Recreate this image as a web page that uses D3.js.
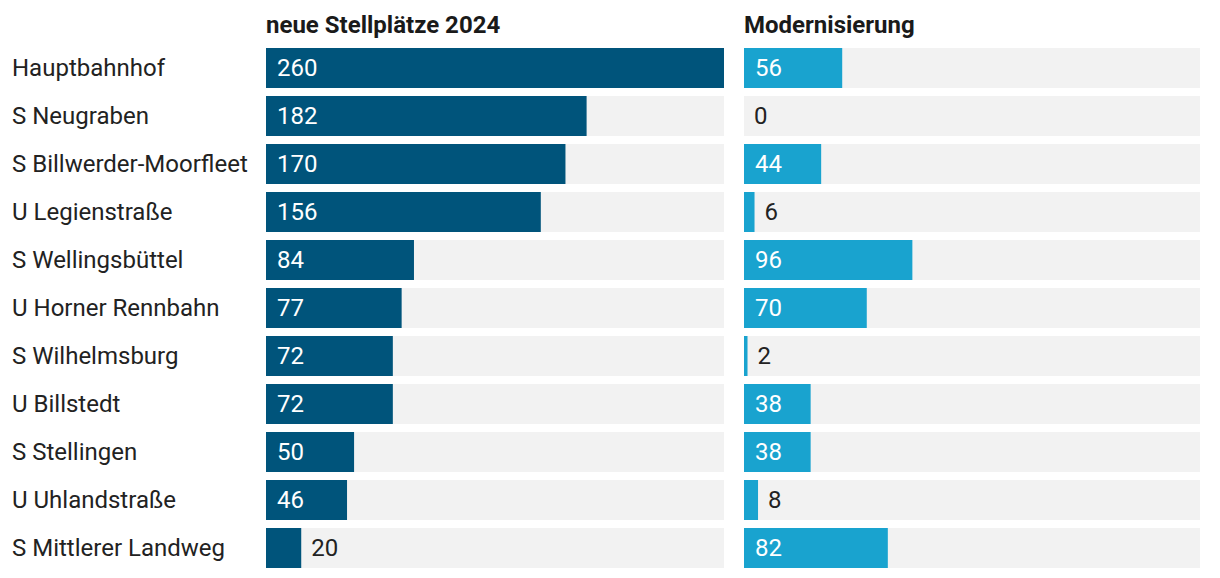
<!DOCTYPE html>
<html><head><meta charset="utf-8">
<script src="https://cdn.jsdelivr.net/npm/d3@7"></script>
<style>
html,body{margin:0;padding:0;background:#fff;}
text{font-family:Roboto,"Noto Sans",sans-serif;}
</style></head>
<body>
<svg id="c" width="1220" height="578"></svg>
<script>
const categories = ["Hauptbahnhof","S Neugraben","S Billwerder-Moorfleet","U Legienstraße","S Wellingsbüttel","U Horner Rennbahn","S Wilhelmsburg","U Billstedt","S Stellingen","U Uhlandstraße","S Mittlerer Landweg"];
const neueStellplaetze = [260,182,170,156,84,77,72,72,50,46,20];
const modernisierung = [56,0,44,6,96,70,2,38,38,8,82];
const seriesTitles = ["neue Stellplätze 2024","Modernisierung"];

const svg = d3.select("#c");
const yb = d3.scaleBand().domain(categories).range([48, 48+48*categories.length-8]).paddingInner(8/48).paddingOuter(0);

const cols = [
  {x0:266, x1:724, data:neueStellplaetze, color:"#00547b", title:seriesTitles[0]},
  {x0:744, x1:1200, data:modernisierung, color:"#19a3cf", title:seriesTitles[1]}
];

svg.selectAll("text.cat").data(categories).enter().append("text")
  .attr("x",12).attr("y",d=>yb(d)+yb.bandwidth()/2)
  .attr("dy","0.35em").attr("font-size",24).attr("fill","#222").text(d=>d);

cols.forEach(c=>{
  const x = d3.scaleLinear().domain([0,260]).range([c.x0,c.x1]);
  const g = svg.append("g");
  g.append("text").attr("x",c.x0).attr("y",25).attr("dy","0.35em")
    .attr("font-size",24).attr("font-weight",700).attr("fill","#1a1a1a").text(c.title);
  const rows = categories.map((cat,i)=>({cat,v:c.data[i]}));
  g.selectAll("rect.bg").data(rows).enter().append("rect")
    .attr("x",x(0)).attr("y",d=>yb(d.cat)).attr("width",x(260)-x(0)).attr("height",yb.bandwidth()).attr("fill","#f2f2f2");
  g.selectAll("rect.bar").data(rows).enter().append("rect")
    .attr("x",x(0)).attr("y",d=>yb(d.cat)).attr("width",d=>x(d.v)-x(0)).attr("height",yb.bandwidth()).attr("fill",c.color);
  g.selectAll("text.val").data(rows).enter().append("text")
    .attr("x",d=> (x(d.v)-x(0) > 50) ? x(0)+11 : x(d.v)+10)
    .attr("y",d=>yb(d.cat)+yb.bandwidth()/2).attr("dy","0.35em")
    .attr("font-size",24)
    .attr("fill",d=> (x(d.v)-x(0) > 50) ? "#fff" : "#222")
    .text(d=>d.v);
});
</script>
</body></html>
